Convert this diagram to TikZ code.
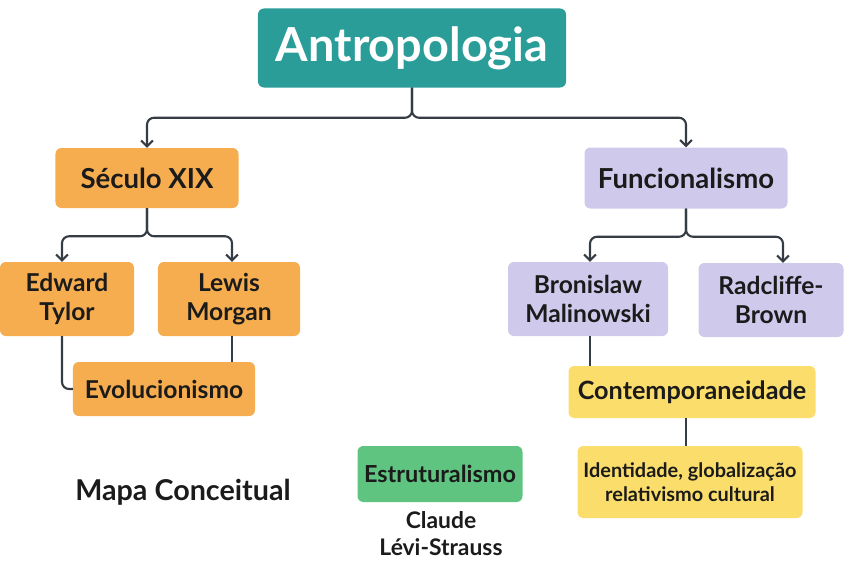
\documentclass[tikz,border=0pt]{standalone}
\usepackage{fontspec}
\setmainfont{Lato}
\usetikzlibrary{arrows.meta}

\definecolor{tealbox}{HTML}{2A9D99}
\definecolor{orangebox}{HTML}{F5AD4F}
\definecolor{lilacbox}{HTML}{CFCAEC}
\definecolor{yellowbox}{HTML}{FADD6B}
\definecolor{greenbox}{HTML}{5EC47F}
\definecolor{inkline}{HTML}{363C44}
\definecolor{inktext}{HTML}{1B1B1B}

\begin{document}
\begin{tikzpicture}[x=0.03cm, y=-0.03cm,
    box/.style={rounded corners=5pt, align=center, inner sep=0pt, text=inktext,
        font=\bfseries\fontsize{21}{25}\selectfont},
    link/.style={draw=inkline, line width=1.8pt, rounded corners=6pt},
    arrow/.style={link, -{Straight Barb[length=5pt, width=10pt, line width=1.8pt]}}]
    \useasboundingbox (0,0) rectangle (851,560);

    %top of the map
        \node[box, fill=tealbox, text=white, minimum width=9.24cm, minimum height=2.37cm,
            font=\bfseries\fontsize{40}{46}\selectfont] (root) at (412,48) {Antropologia};

    %left branch
        \node[box, fill=orangebox, minimum width=5.49cm, minimum height=1.8cm,
            font=\bfseries\fontsize{23.5}{28}\selectfont] (seculo) at (147,178) {Século XIX};
        \node[box, fill=orangebox, minimum width=4.02cm, minimum height=2.22cm] (tylor) at (67,299) {Edward\\Tylor};
        \node[box, fill=orangebox, minimum width=4.26cm, minimum height=2.22cm] (morgan) at (229,299) {Lewis\\Morgan};
        \node[box, fill=orangebox, minimum width=5.46cm, minimum height=1.62cm] (evol) at (164,389) {Evolucionismo};

    %right branch
        \node[box, fill=lilacbox, minimum width=6.09cm, minimum height=1.83cm,
            font=\bfseries\fontsize{23.5}{28}\selectfont] (func) at (686,178) {Funcionalismo};
        \node[box, fill=lilacbox, minimum width=4.8cm, minimum height=2.22cm] (malin) at (588,299) {Bronislaw\\Malinowski};
        \node[box, fill=lilacbox, minimum width=4.35cm, minimum height=2.22cm] (radcl) at (771,300) {Radcliffe-\\Brown};
        \node[box, fill=yellowbox, minimum width=7.41cm, minimum height=1.56cm,
            font=\bfseries\fontsize{21.5}{25}\selectfont] (contemp) at (692,392) {Contemporaneidade};
        \node[box, fill=yellowbox, minimum width=6.75cm, minimum height=2.16cm,
            font=\bfseries\fontsize{17}{21}\selectfont] (ident) at (690,482) {Identidade, globalização\\relativismo cultural};

    %middle and caption
        \node[box, fill=greenbox, minimum width=4.95cm, minimum height=1.68cm,
            font=\bfseries\fontsize{20}{24}\selectfont] (estrut) at (440,474) {Estruturalismo};
        \node[align=center, text=inktext, font=\bfseries\fontsize{19.5}{23}\selectfont] (levi) at (441,534) {Claude\\Lévi-Strauss};
        \node[text=inktext, font=\bfseries\fontsize{24.5}{28}\selectfont] (mapa) at (183,492) {Mapa Conceitual};

    %connectors
        \draw[arrow] (root.south) -- ++(0,30) -| (seculo.north);
        \draw[arrow] (root.south) -- ++(0,30) -| (func.north);
        \draw[arrow] (seculo.south) -- ++(0,28) -| ([xshift=-0.15cm]tylor.north);
        \draw[arrow] (seculo.south) -- ++(0,28) -| ([xshift=0.09cm]morgan.north);
        \draw[arrow] (func.south) -- ++(0,28) -| ([xshift=0.06cm]malin.north);
        \draw[arrow] (func.south) -- ++(0,28) -| ([xshift=0.36cm]radcl.north);
        \draw[link] ([xshift=-0.15cm]tylor.south) |- (evol.west);
        \draw[link] ([xshift=0.09cm]morgan.south) -- ([xshift=0.09cm]morgan.south |- evol.north);
        \draw[link] ([xshift=0.06cm]malin.south) -- ([xshift=0.06cm]malin.south |- contemp.north);
        \draw[link] ([xshift=-0.18cm]contemp.south) -- ([xshift=-0.18cm]contemp.south |- ident.north);
\end{tikzpicture}
\end{document}
